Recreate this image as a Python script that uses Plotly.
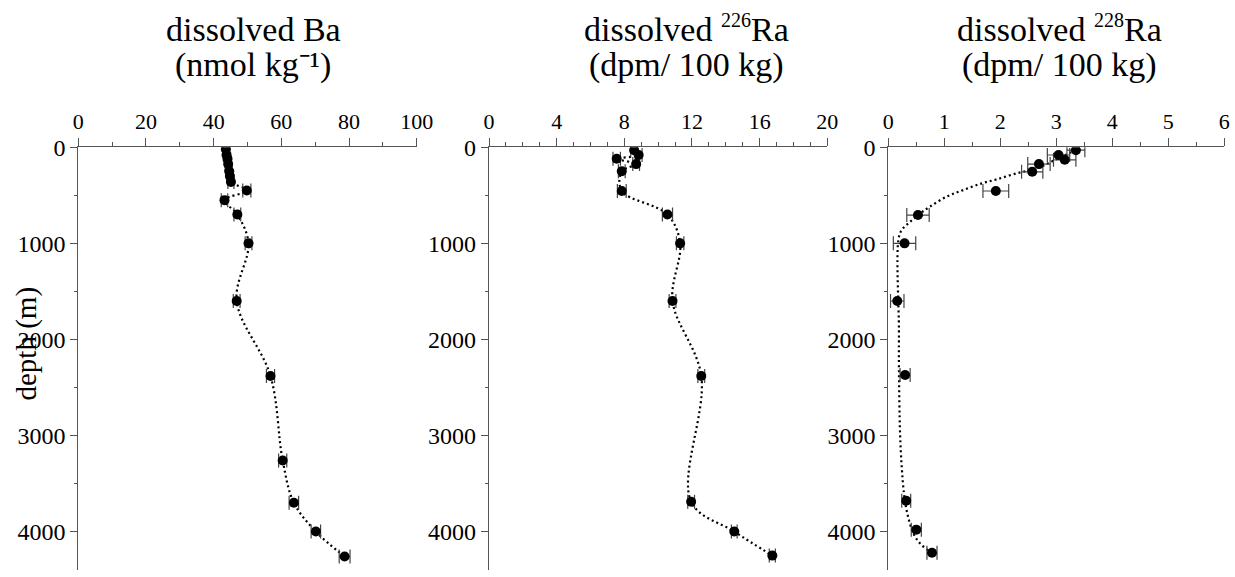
import plotly.graph_objects as go

W, H = 1235, 577

# ---- dissolved Ba (nmol/kg) ----
ba_depth = [20, 80, 120, 175, 250, 300, 360, 450, 550, 700, 1000, 1600, 2380, 3260, 3700, 4000, 4260]
ba_value = [43.6, 43.8, 44.1, 44.3, 44.6, 44.8, 45.1, 49.8, 43.2, 47.0, 50.3, 46.8, 56.8, 60.4, 63.7, 70.2, 78.7]
ba_error = [0.9, 0.9, 0.9, 0.9, 0.9, 0.9, 0.9, 1.2, 0.95, 1.0, 1.0, 1.0, 1.2, 1.2, 1.4, 1.4, 1.6]

# ---- dissolved 226Ra (dpm/100 kg) ----
ra226_depth = [30, 80, 120, 175, 250, 455, 700, 1000, 1600, 2380, 3690, 4000, 4250]
ra226_value = [8.58, 8.85, 7.55, 8.7, 7.85, 7.85, 10.55, 11.3, 10.85, 12.55, 11.95, 14.5, 16.75]
ra226_error = [0.2, 0.2, 0.22, 0.2, 0.2, 0.26, 0.3, 0.22, 0.2, 0.2, 0.2, 0.17, 0.18]

# ---- dissolved 228Ra (dpm/100 kg) ----
ra228_depth = [30, 80, 130, 175, 255, 455, 705, 1000, 1600, 2370, 3680, 3980, 4220]
ra228_value = [3.35, 3.04, 3.15, 2.69, 2.57, 1.92, 0.53, 0.29, 0.16, 0.30, 0.32, 0.50, 0.78]
ra228_error = [0.16, 0.2, 0.2, 0.2, 0.19, 0.23, 0.2, 0.2, 0.12, 0.09, 0.08, 0.09, 0.09]

# fitted 228Ra profile (trend curve)
ra228_fit_depth = [28, 156, 219, 271, 333, 375, 445, 514, 619, 688, 775, 861, 965, 1903, 2285, 2980, 3327, 3604, 3813, 4021, 4125, 4195, 4225]
ra228_fit_value = [3.35, 2.89, 2.65, 2.29, 1.94, 1.67, 1.34, 1.04, 0.74, 0.57, 0.39, 0.24, 0.18, 0.19, 0.19, 0.21, 0.24, 0.28, 0.34, 0.45, 0.57, 0.71, 0.78]

# axis ticks
depth_ticks = [0, 1000, 2000, 3000, 4000]
ba_ticks = [0, 20, 40, 60, 80, 100]
ra226_ticks = [0, 4, 8, 12, 16, 20]
ra226_unlabeled = [2, 6, 10, 14, 18]
ra228_ticks = [0, 1, 2, 3, 4, 5, 6]

# panel titles (two lines each)
SUP = '<sup><span style="font-size:20px">{}</span></sup>'
title_line1 = ["dissolved Ba", "dissolved " + SUP.format("226") + "Ra", "dissolved " + SUP.format("228") + "Ra"]
title_line2 = ["(nmol kg\u207b\u00b9)", "(dpm/ 100 kg)", "(dpm/ 100 kg)"]

FONT = "Liberation Serif, Times New Roman, serif"
AX = "#555555"

fig = go.Figure()


def add_profile(xa, ya, values, depths, errors, curve_x, curve_y):
    fig.add_trace(go.Scatter(
        x=curve_x, y=curve_y, xaxis=xa, yaxis=ya, mode="lines",
        line=dict(color="black", width=2.2, dash="2px,3px", shape="spline", smoothing=1.0),
        hoverinfo="skip", showlegend=False))
    fig.add_trace(go.Scatter(
        x=values, y=depths, xaxis=xa, yaxis=ya, mode="markers",
        marker=dict(color="black", size=10),
        error_x=dict(type="data", array=errors, visible=True, color="#444444", thickness=1.2, width=7),
        showlegend=False))


add_profile("x", "y", ba_value, ba_depth, ba_error, ba_value, ba_depth)
add_profile("x2", "y2", ra226_value, ra226_depth, ra226_error, ra226_value, ra226_depth)
add_profile("x3", "y3", ra228_value, ra228_depth, ra228_error, ra228_fit_value, ra228_fit_depth)

# panel placement in pixels (left, right)
panels = [(78.3, 416.7), (489.0, 827.3), (888.3, 1224.3)]
y_top, y_bot = 147.3, 570.0
ydom = [1 - y_bot / H, 1 - y_top / H]


def xaxis(i, rng, tickvals, minor_dtick):
    l, r = panels[i]
    return dict(
        domain=[l / W, r / W], range=rng, side="top", anchor=("y" if i == 0 else f"y{i+1}"),
        automargin=False,
        showline=True, linecolor=AX, linewidth=1.2, showgrid=False, zeroline=False,
        ticks="outside", ticklen=8, tickcolor=AX, tickwidth=1.2,
        tickmode="array", tickvals=tickvals, ticktext=[str(v) for v in tickvals],
        tickfont=dict(family=FONT, size=22, color="black"),
        minor=dict(ticks="outside", ticklen=4, dtick=minor_dtick, tickcolor=AX, tickwidth=1.2, showgrid=False),
        fixedrange=True,
    )


def yaxis(i):
    return dict(
        domain=ydom, range=[4400, 0], anchor=("x" if i == 0 else f"x{i+1}"),
        automargin=False,
        showline=True, linecolor=AX, linewidth=1.2, showgrid=False, zeroline=False,
        ticks="outside", ticklen=7, tickcolor=AX, tickwidth=1.2,
        tickmode="array", tickvals=depth_ticks, ticktext=[str(v) for v in depth_ticks],
        tickfont=dict(family=FONT, size=24, color="black"),
        minor=dict(ticks="outside", ticklen=3, dtick=500, tickcolor=AX, tickwidth=1.2, showgrid=False),
        fixedrange=True,
    )


fig.update_layout(
    width=W, height=H,
    margin=dict(l=0, r=0, t=0, b=0, autoexpand=False),
    paper_bgcolor="white", plot_bgcolor="white",
    showlegend=False,
    xaxis=xaxis(0, [0, 100], ba_ticks, 10),
    xaxis2=xaxis(1, [0, 20], ra226_ticks, 1),
    xaxis3=xaxis(2, [0, 6], ra228_ticks, 0.5),
    # long unlabeled ticks between the 226Ra labels
    xaxis4=dict(
        overlaying="x2", side="top", anchor="y2", range=[0, 20], automargin=False,
        showline=False, showgrid=False, zeroline=False, showticklabels=False,
        ticks="outside", ticklen=8, tickcolor=AX, tickwidth=1.2,
        tickmode="array", tickvals=ra226_unlabeled, fixedrange=True,
    ),
    yaxis=yaxis(0), yaxis2=yaxis(1), yaxis3=yaxis(2),
)

title_centers = [253, 686, 1059]
for cx, t1, t2 in zip(title_centers, title_line1, title_line2):
    for txt, bottom in ((t1, 50), (t2, 86)):
        fig.add_annotation(
            x=cx / W, y=1 - bottom / H, xref="paper", yref="paper",
            xanchor="center", yanchor="bottom", showarrow=False, text=txt,
            font=dict(family=FONT, size=34, color="black"))

fig.add_annotation(
    x=26 / W, y=1 - 343.5 / H, xref="paper", yref="paper",
    xanchor="center", yanchor="middle", showarrow=False, textangle=-90,
    text="depth (m)", font=dict(family=FONT, size=29, color="black"))

fig.write_html("out.html")
